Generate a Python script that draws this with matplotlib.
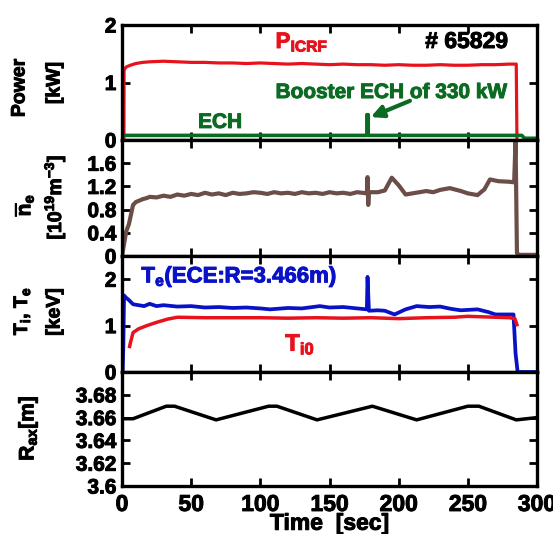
import matplotlib
matplotlib.use("Agg")
from matplotlib import pyplot as plt
from matplotlib import patheffects as pe

plt.rcParams['font.family'] = ['Liberation Sans', 'DejaVu Sans']
plt.rcParams['font.weight'] = 'bold'
plt.rcParams['axes.labelweight'] = 'bold'
plt.rcParams['mathtext.fontset'] = 'custom'
plt.rcParams['mathtext.rm'] = 'Liberation Sans:bold'
plt.rcParams['mathtext.it'] = 'Liberation Sans:bold'
plt.rcParams['mathtext.bf'] = 'Liberation Sans:bold'
plt.rcParams['mathtext.default'] = 'rm'

# ---- data ----
t_icrf = [0, 1.4, 1.5, 3, 6, 10, 15, 20, 30, 40, 50, 60, 70, 80, 90, 100, 110, 120, 130,
          140, 150, 160, 170, 180, 190, 200, 210, 220, 230, 240, 250, 260, 270, 280, 285, 285.5]
p_icrf = [0, 0, 1.22, 1.27, 1.30, 1.33, 1.35, 1.36, 1.37, 1.36, 1.35, 1.35, 1.34, 1.34, 1.33,
          1.34, 1.33, 1.32, 1.33, 1.32, 1.31, 1.32, 1.31, 1.31, 1.30, 1.31, 1.30, 1.30, 1.31,
          1.30, 1.30, 1.31, 1.31, 1.32, 1.32, 0.0]

t_ech = [0, 177, 177, 178, 178, 289, 291, 300]
p_ech = [0.08, 0.08, 0.44, 0.44, 0.08, 0.08, 0.03, 0.03]

t_ne = [0, 3, 5, 8, 10, 13, 15, 18, 20, 25, 30, 35, 40, 45, 50, 55, 60, 65, 70, 75, 80, 85,
        90, 95, 100, 105, 110, 115, 120, 125, 130, 135, 140, 145, 150, 155, 160, 165, 170,
        177, 177.5, 178, 178.5, 185, 190, 195, 200, 205, 210, 215, 220, 225, 230, 237, 245,
        250, 257, 262, 266, 272, 280, 283.5, 284.5, 285.5, 287, 300]
ne = [0, 0.42, 0.55, 0.88, 0.93, 0.96, 0.98, 1.0, 1.02, 1.01, 1.04, 1.02, 1.06, 1.04, 1.07,
      1.05, 1.09, 1.06, 1.08, 1.05, 1.09, 1.07, 1.08, 1.1, 1.09, 1.07, 1.1, 1.08, 1.09, 1.07,
      1.1, 1.08, 1.09, 1.07, 1.1, 1.08, 1.09, 1.07, 1.1, 1.08, 1.36, 0.88, 1.1, 1.1, 1.13,
      1.35, 1.22, 1.06, 1.08, 1.1, 1.12, 1.1, 1.14, 1.17, 1.12, 1.08, 1.05, 1.15, 1.32, 1.29,
      1.28, 1.27, 2.0, 0.05, 0.02, 0.02]

t_te = [0.5, 1, 1.5, 3, 5, 8, 12, 16, 20, 25, 30, 40, 50, 60, 70, 80, 90, 100, 107, 120, 130,
        143, 150, 160, 170, 177, 177.5, 178.5, 185, 190, 197, 205, 213, 222, 230, 238, 245,
        257, 265, 270, 283, 284.5, 286, 300]
te = [0.0, 0.6, 1.65, 1.6, 1.55, 1.46, 1.44, 1.42, 1.47, 1.42, 1.44, 1.41, 1.42, 1.39, 1.40,
      1.38, 1.39, 1.37, 1.35, 1.38, 1.37, 1.42, 1.39, 1.40, 1.37, 1.35, 2.05, 1.32, 1.33,
      1.32, 1.24, 1.35, 1.42, 1.40, 1.41, 1.36, 1.33, 1.35, 1.29, 1.24, 1.24, 0.4, 0.0, 0.0]

t_ti = [5.5, 6, 8, 12, 18, 25, 33, 40, 60, 80, 100, 120, 140, 160, 180, 200, 220, 240, 250,
        260, 270, 280, 284, 285.5]
ti = [0.55, 0.62, 0.85, 0.93, 1.0, 1.07, 1.14, 1.18, 1.17, 1.17, 1.17, 1.16, 1.17, 1.16,
      1.17, 1.15, 1.17, 1.18, 1.20, 1.19, 1.18, 1.17, 1.15, 1.02]

t_rax = [0, 8, 32, 38, 68, 106, 112, 141, 181, 213, 250, 258, 285, 300]
rax = [3.659, 3.659, 3.670, 3.670, 3.658, 3.670, 3.670, 3.658, 3.670, 3.658, 3.670, 3.670,
       3.658, 3.660]

x_ticks = [0, 50, 100, 150, 200, 250, 300]
x_labels = ['0', '50', '100', '150', '200', '250', '300']
y1_ticks, y1_labels = [0, 1, 2], ['0', '1', '2']
y2_ticks, y2_labels = [0, 0.4, 0.8, 1.2, 1.6, 2.0], ['0', '0.4', '0.8', '1.2', '1.6', '']
y3_ticks, y3_labels = [0, 1, 2], ['0', '1', '2']
y4_ticks = [3.6, 3.62, 3.64, 3.66, 3.68, 3.7]
y4_labels = ['3.6', '3.62', '3.64', '3.66', '3.68', '']

red = '#e8121c'
blue = '#0a12c8'
green = '#0b6b22'
brown = '#6b4e47'

W, H = 553, 534
fig = plt.figure(figsize=(W / 100, H / 100), dpi=100)

left = 122 / W
width = (537 - 122) / W
edges = [25, 140, 256, 372, 486]
axes = []
for i in range(4):
    bottom = 1 - edges[i + 1] / H
    height = (edges[i + 1] - edges[i]) / H
    ax = fig.add_axes([left, bottom, width, height])
    axes.append(ax)
ax1, ax2, ax3, ax4 = axes

yspec = [(y1_ticks, y1_labels), (y2_ticks, y2_labels), (y3_ticks, y3_labels),
         (y4_ticks, y4_labels)]
for ax, (yt, yl) in zip(axes, yspec):
    ax.set_xlim(0, 300)
    ax.set_xticks(x_ticks, x_labels, fontsize=16.5, fontweight='bold')
    ax.set_yticks(yt, yl, fontsize=15, fontweight='bold')
    ax.tick_params(direction='in', top=True, right=True, length=6, width=2, pad=4)
    ax.tick_params(axis='x', pad=5)
    for s in ax.spines.values():
        s.set_linewidth(2.4)
    if ax is not ax4:
        ax.tick_params(labelbottom=False)

# power
ax1.plot(t_icrf, p_icrf, color=red, lw=2.3)
ax1.plot(t_ech, p_ech, color=green, lw=2.6)
ax1.set_ylim(0, 2)
ax1.text(111, 1.6, r'P$_{\mathrm{ICRF}}$', color=red, fontsize=16, va='baseline')
ax1.text(249, 1.6, '# 65829', color='black', fontsize=16.5, ha='center', va='baseline')
ax1.text(111, 0.73, 'Booster ECH of 330 kW', color=green, fontsize=15, va='baseline')
ax1.text(55, 0.21, 'ECH', color=green, fontsize=15, va='baseline')
ax1.annotate('', xy=(178, 0.38), xytext=(210, 0.70),
             arrowprops=dict(arrowstyle='-|>', color=green, lw=3, mutation_scale=18))

# density
ax2.plot(t_ne, ne, color=brown, lw=3)
ax2.set_ylim(0, 2)

# temperatures
ax3.plot(t_te, te, color=blue, lw=2.7)
ax3.plot(t_ti, ti, color=red, lw=2.5)
ax3.set_ylim(0, 2.5)
ax3.text(14, 1.93, r'T$_{\mathrm{e}}$(ECE:R=3.466m)', color=blue, fontsize=16, va='baseline')
ax3.text(118, 0.46, r'T$_{\mathrm{i0}}$', color=red, fontsize=17, va='baseline')

# magnetic axis
ax4.plot(t_rax, rax, color='black', lw=2.5)
ax4.set_ylim(3.6, 3.7)
ax4.set_xlabel('Time  [sec]', fontsize=16.5, fontweight='bold', labelpad=-3)

# y labels (two lines each)
fs = 14
fig.text(20 / W, 1 - 88 / H, 'Power', rotation=90, fontsize=fs, ha='center', va='center')
fig.text(55 / W, 1 - 83 / H, '[kW]', rotation=90, fontsize=fs, ha='center', va='center')
fig.text(24 / W, 1 - 205 / H, r'$\overline{\mathrm{n}}_{\mathrm{e}}$', rotation=90,
         fontsize=fs + 1, ha='center', va='center')
fig.text(55 / W, 1 - 197 / H, r'[10$^{19}$m$^{-3}$]', rotation=90, fontsize=fs,
         ha='center', va='center')
fig.text(22 / W, 1 - 311 / H, r'T$_{\mathrm{i}}$, T$_{\mathrm{e}}$', rotation=90,
         fontsize=fs, ha='center', va='center')
fig.text(55 / W, 1 - 312 / H, '[keV]', rotation=90, fontsize=fs, ha='center', va='center')
fig.text(28 / W, 1 - 428 / H, r'R$_{\mathrm{ax}}$[m]', rotation=90, fontsize=fs + 1,
         ha='center', va='center')

# heavier glyphs, like the original's thick Arial
for txt in fig.findobj(matplotlib.text.Text):
    txt.set_path_effects([pe.withStroke(linewidth=0.7, foreground=txt.get_color())])

fig.savefig('out.png', dpi=100)
